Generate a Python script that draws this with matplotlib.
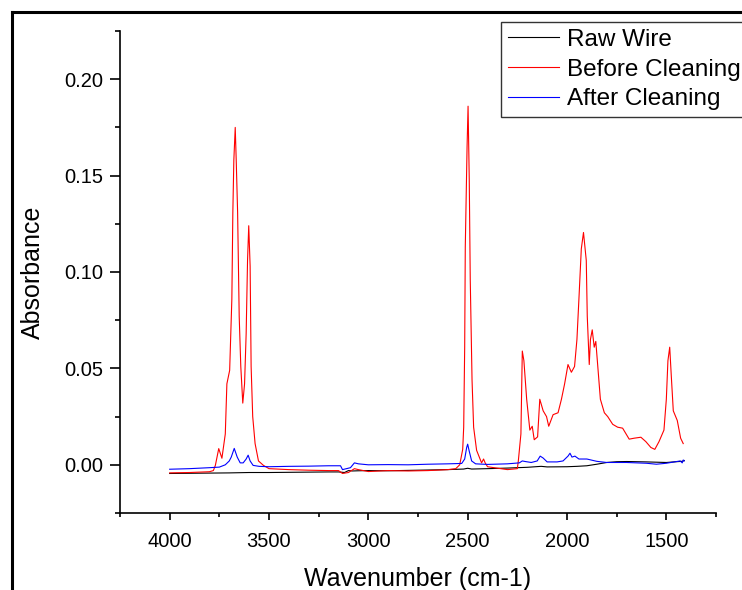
import matplotlib
matplotlib.use("Agg")
import matplotlib.pyplot as plt
import matplotlib.ticker as ticker
from matplotlib.lines import Line2D

plt.rcParams['font.family'] = ['Liberation Sans', 'DejaVu Sans']

# Raw wire spectrum (wavenumber, absorbance)
raw_x = [4000, 3900, 3800, 3700, 3600, 3500, 3400, 3300, 3200, 3150, 3120, 3100, 3080, 3050,
         3000, 2900, 2800, 2700, 2600, 2520, 2500, 2480, 2400, 2300, 2200, 2130, 2100, 2000,
         1950, 1900, 1850, 1800, 1750, 1700, 1600, 1500, 1450, 1420, 1410]
raw_y = [-0.0045, -0.0044, -0.0043, -0.0042, -0.0040, -0.0040, -0.0039, -0.0038, -0.0037, -0.0037,
         -0.0040, -0.0030, -0.0032, -0.0031, -0.0030, -0.0031, -0.0029, -0.0027, -0.0025, -0.0022,
         -0.0018, -0.0022, -0.0020, -0.0017, -0.0013, -0.0008, -0.0011, -0.0010, -0.0008, -0.0005,
         0.0003, 0.0012, 0.0016, 0.0017, 0.0015, 0.0012, 0.0016, 0.0018, 0.0022]

# Before cleaning
before_x = [4000, 3900, 3800, 3780, 3770, 3753, 3737, 3720, 3712, 3698, 3687, 3682, 3677, 3670,
            3665, 3658, 3650, 3642, 3632, 3623, 3615, 3608, 3602, 3595, 3590, 3582, 3570, 3553,
            3528, 3500, 3400, 3300, 3200, 3150, 3130, 3100, 3070, 3050, 3000, 2900, 2800, 2700,
            2600, 2560, 2540, 2525, 2520, 2515, 2512, 2503, 2498, 2492, 2487, 2478, 2470, 2455,
            2430, 2420, 2412, 2400, 2300, 2250, 2245, 2232, 2225, 2217, 2203, 2187, 2175, 2165,
            2148, 2137, 2120, 2103, 2092, 2070, 2045, 2028, 2012, 1995, 1978, 1962, 1950, 1940,
            1928, 1917, 1903, 1898, 1888, 1882, 1873, 1863, 1855, 1845, 1832, 1812, 1795, 1770,
            1745, 1720, 1687, 1662, 1628, 1603, 1578, 1558, 1537, 1512, 1500, 1492, 1483, 1475,
            1465, 1445, 1428, 1415]
before_y = [-0.0042, -0.0040, -0.0036, -0.0030, -0.0003, 0.0084, 0.0034, 0.016, 0.042, 0.049,
            0.086, 0.131, 0.158, 0.175, 0.158, 0.131, 0.077, 0.051, 0.032, 0.042, 0.068, 0.106,
            0.124, 0.103, 0.051, 0.025, 0.011, 0.002, -0.0003, -0.0020, -0.0025, -0.0028, -0.0030,
            -0.0030, -0.0045, -0.0040, -0.0020, -0.0025, -0.0035, -0.0030, -0.0032, -0.0030,
            -0.0025, -0.0020, 0.0000, 0.008, 0.0195, 0.061, 0.113, 0.165, 0.186, 0.148, 0.096,
            0.044, 0.0195, 0.0075, 0.001, 0.003, 0.001, -0.001, -0.0025, -0.002, 0.002, 0.016,
            0.059, 0.054, 0.034, 0.018, 0.020, 0.013, 0.0145, 0.034, 0.028, 0.025, 0.020, 0.026,
            0.027, 0.034, 0.042, 0.052, 0.048, 0.051, 0.065, 0.086, 0.112, 0.1205, 0.106, 0.077,
            0.052, 0.065, 0.070, 0.061, 0.064, 0.051, 0.034, 0.027, 0.025, 0.021, 0.0195, 0.019,
            0.0133, 0.0138, 0.0143, 0.012, 0.009, 0.008, 0.012, 0.018, 0.034, 0.054, 0.061, 0.046,
            0.028, 0.023, 0.0138, 0.011]

# After cleaning
after_x = [4000, 3900, 3800, 3750, 3720, 3700, 3690, 3675, 3660, 3645, 3630, 3615, 3605, 3595,
           3580, 3550, 3500, 3400, 3300, 3200, 3140, 3130, 3110, 3090, 3070, 3050, 3000, 2900,
           2800, 2700, 2600, 2530, 2515, 2505, 2500, 2492, 2480, 2460, 2400, 2300, 2240, 2225,
           2210, 2180, 2150, 2135, 2120, 2100, 2050, 2020, 1995, 1985, 1975, 1960, 1940, 1900,
           1850, 1800, 1700, 1600, 1550, 1500, 1460, 1430, 1420, 1415, 1410]
after_y = [-0.0023, -0.0020, -0.0015, -0.0012, 0.0000, 0.0020, 0.0040, 0.0085, 0.0040, 0.0010,
           0.0010, 0.0030, 0.0050, 0.0020, -0.0003, -0.0008, -0.0010, -0.0008, -0.0007, -0.0005,
           -0.0005, -0.0025, -0.0020, -0.0015, 0.0010, 0.0005, 0.0000, 0.0001, 0.0000, 0.0003,
           0.0005, 0.0007, 0.0030, 0.0090, 0.0107, 0.0070, 0.0020, 0.0005, 0.0002, 0.0005, 0.0010,
           0.0020, 0.0017, 0.0012, 0.0020, 0.0045, 0.0035, 0.0015, 0.0015, 0.0020, 0.0045, 0.0060,
           0.0040, 0.0045, 0.0030, 0.0030, 0.0018, 0.0012, 0.0012, 0.0008, 0.0003, 0.0008, 0.0015,
           0.0020, 0.0010, 0.0025, 0.0020]

labels = ['Raw Wire', 'Before Cleaning', 'After Cleaning']

fig = plt.figure(figsize=(7.42, 5.9), dpi=100)
ax = fig.add_axes([120 / 742, 1 - 513 / 590, 596 / 742, 482 / 590])

ax.plot(raw_x, raw_y, color='black', lw=0.8, label=labels[0])
ax.plot(before_x, before_y, color='red', lw=0.8, label=labels[1])
ax.plot(after_x, after_y, color='blue', lw=0.8, label=labels[2])

ax.set_xlim(4250, 1250)
ax.set_ylim(-0.025, 0.225)
ax.xaxis.set_major_locator(ticker.MultipleLocator(500))
ax.xaxis.set_minor_locator(ticker.MultipleLocator(250))
ax.yaxis.set_major_locator(ticker.FixedLocator([0.0, 0.05, 0.10, 0.15, 0.20]))
ax.yaxis.set_minor_locator(ticker.MultipleLocator(0.025))
ax.yaxis.set_major_formatter(ticker.FormatStrFormatter('%.2f'))

for s in ['top', 'right']:
    ax.spines[s].set_visible(False)
for s in ['left', 'bottom']:
    ax.spines[s].set_linewidth(1.2)

ax.tick_params(axis='y', which='major', direction='out', length=7, width=1.2, labelsize=14.5, pad=5)
ax.tick_params(axis='y', which='minor', direction='out', length=3.5, width=1.2)
ax.tick_params(axis='x', which='major', direction='out', length=5, width=1.2, labelsize=14.5, pad=9)
ax.tick_params(axis='x', which='minor', direction='out', length=3, width=1.2)

ax.set_xlabel('Wavenumber (cm-1)', fontsize=18, labelpad=11)
ax.set_ylabel('Absorbance', fontsize=18, labelpad=14)

leg = ax.legend(loc='upper left', bbox_to_anchor=(501 / 742, 1 - 22 / 590),
                bbox_transform=fig.transFigure, fontsize=17.5, handlelength=2.1,
                handletextpad=0.33, labelspacing=0.32, borderpad=0.28, borderaxespad=0,
                fancybox=False, framealpha=1)
leg.get_frame().set_edgecolor('#333333')
leg.get_frame().set_linewidth(1.0)

# page border (top and left edges visible)
fig.add_artist(Line2D([12 / 742, 12 / 742], [0, 1 - 12 / 590], transform=fig.transFigure,
                      color='black', lw=2.2))
fig.add_artist(Line2D([12 / 742, 1], [1 - 12 / 590, 1 - 12 / 590], transform=fig.transFigure,
                      color='black', lw=2.2))

fig.savefig('out.png', dpi=100)
